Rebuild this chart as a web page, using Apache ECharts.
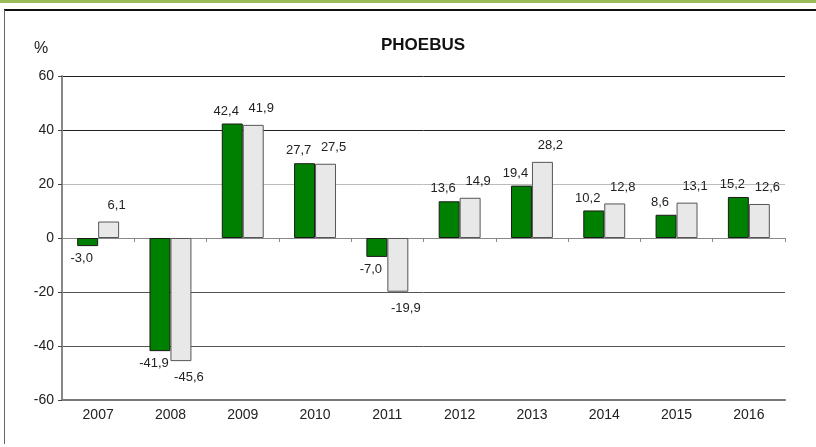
<!DOCTYPE html>
<html>
<head>
<meta charset="utf-8">
<script src="https://cdn.jsdelivr.net/npm/echarts@6/dist/echarts.min.js"></script>
<style>
  html, body { margin: 0; padding: 0; background: #fff; }
  #chart { width: 816px; height: 447px; }
</style>
</head>
<body>
<div id="chart"></div>
<script>
const years = ['2007', '2008', '2009', '2010', '2011', '2012', '2013', '2014', '2015', '2016'];
const fundValues = [-3.0, -41.9, 42.4, 27.7, -7.0, 13.6, 19.4, 10.2, 8.6, 15.2];
const benchValues = [6.1, -45.6, 41.9, 27.5, -19.9, 14.9, 28.2, 12.8, 13.1, 12.6];
const yTicks = [-60, -40, -20, 0, 20, 40, 60];

const fontFam = '"Liberation Sans", Arial, sans-serif';

function fmt(v) {
    return v.toFixed(1).replace('.', ',');
}

const chart = echarts.init(document.getElementById('chart'));

function makeSeries(name, values, color, border, dx, dy) {
    return {
        name: name,
        type: 'bar',
        xAxisIndex: 0,
        barGap: '0%',
        barCategoryGap: '42%',
        itemStyle: { color: color, borderColor: border, borderWidth: 1 },
        data: values.map(v => ({
            value: v,
            label: {
                show: true,
                position: v < 0 ? 'bottom' : 'top',
                distance: 6,
                offset: [dx, v < 0 ? dy : -dy],
                color: '#222',
                fontFamily: fontFam,
                fontSize: 13,
                formatter: p => fmt(p.value)
            }
        }))
    };
}

const option = {
    animation: false,
    textStyle: { fontFamily: fontFam },
    title: {
        text: 'PHOEBUS',
        left: 418,
        textAlign: 'center',
        top: 32,
        textStyle: { fontSize: 17, fontWeight: 'bold', color: '#111', fontFamily: fontFam }
    },
    graphic: [
        { type: 'rect', shape: { x: 0, y: 0, width: 816, height: 3 }, style: { fill: '#9bbb59' } },
        { type: 'line', shape: { x1: 4, y1: 10, x2: 816, y2: 10 }, style: { stroke: '#111', lineWidth: 2 } },
        { type: 'line', shape: { x1: 4.5, y1: 10, x2: 4.5, y2: 444 }, style: { stroke: '#666', lineWidth: 1 } },
        { type: 'text', left: 34, top: 41, style: { text: '%', fontSize: 16, fill: '#222', fontFamily: fontFam } }
    ],
    grid: { left: 62, right: 31, top: 76, bottom: 47 },
    xAxis: [
        {
            type: 'category',
            data: years,
            position: 'bottom',
            axisLine: { show: true, onZero: true, lineStyle: { color: '#888', width: 1 } },
            axisTick: { show: true, length: 4, lineStyle: { color: '#888' } },
            axisLabel: { show: false }
        },
        {
            type: 'category',
            data: years,
            position: 'bottom',
            axisLine: { show: true, onZero: false, lineStyle: { color: '#777', width: 2 } },
            axisTick: { show: false },
            axisLabel: { color: '#222', fontSize: 14, margin: 8, fontFamily: fontFam }
        }
    ],
    yAxis: {
        type: 'value',
        min: yTicks[0],
        max: yTicks[yTicks.length - 1],
        interval: 20,
        axisLine: { show: true, onZero: false, lineStyle: { color: '#888', width: 2 } },
        axisTick: { show: true, length: 4, lineStyle: { color: '#444' } },
        axisLabel: { color: '#222', fontSize: 14, margin: 8, fontFamily: fontFam },
        splitLine: {
            show: true,
            lineStyle: { color: ['#666', '#555', '#555', '#999', '#bbb', '#222', '#222'], width: 1 }
        }
    },
    series: [
        makeSeries('PHOEBUS', fundValues, '#008000', '#1a1a1a', -6, 0),
        makeSeries('Benchmark', benchValues, '#e8e8e8', '#555', 8, 4)
    ]
};

chart.setOption(option);
</script>
</body>
</html>
